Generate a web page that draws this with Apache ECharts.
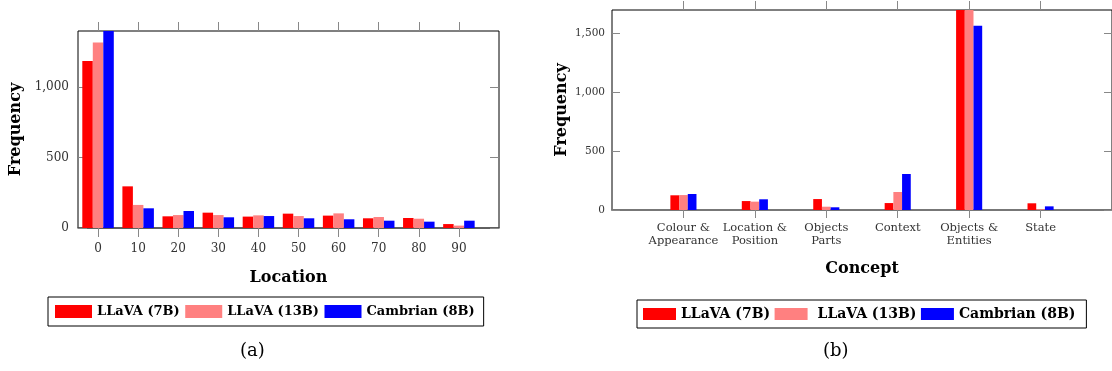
<!DOCTYPE html>
<html>
<head>
<meta charset="utf-8">
<script src="https://cdn.jsdelivr.net/npm/echarts@6/dist/echarts.min.js"></script>
<style>
  html, body { margin: 0; padding: 0; background: #fff; }
  #main { width: 1112px; height: 371px; }
</style>
</head>
<body>
<div id="main"></div>
<script>
// data
var seriesNames = ['LLaVA (7B)', 'LLaVA (13B)', 'Cambrian (8B)'];
var colors = ['#ff0000', '#ff8080', '#0000ff'];

// (a) location histogram
var locations = [0, 10, 20, 30, 40, 50, 60, 70, 80, 90];
var locLlava7 = [1187, 296, 83, 109, 81, 102, 88, 69, 71, 28];
var locLlava13 = [1318, 164, 92, 92, 90, 85, 104, 78, 66, 17];
var locCambrian = [1420, 140, 121, 76, 85, 69, 62, 52, 45, 52];
var locYTicks = [0, 500, 1000];

// (b) concept histogram
var concepts = ['Colour &\nAppearance', 'Location &\nPosition', 'Objects\nParts', 'Context', 'Objects &\nEntities', 'State'];
var conLlava7 = [125, 76, 93, 59, 1760, 57];
var conLlava13 = [127, 71, 28, 153, 1740, 6];
var conCambrian = [136, 91, 23, 306, 1567, 31];
var conYTicks = [0, 500, 1000, 1500];

var FONT = 'DejaVu Serif';
var tickColor = '#888';
var labelColor = '#333';

function thousands(v) {
    return String(v).replace(/\B(?=(\d{3})+(?!\d))/g, ',');
}

function pairs(xs, ys) {
    return xs.map(function (x, i) { return [x, ys[i]]; });
}

// legend entries with fixed text widths so the boxes line up
function legendData(widths, padPink) {
    return seriesNames.map(function (n, i) {
        return {name: n, textStyle: {width: widths[i], overflow: 'none', padding: [0, 0, 0, (padPink && i === 1) ? 5 : 0]}};
    });
}

var myChart = echarts.init(document.getElementById('main'));

var conIdx = concepts.map(function (c, i) { return i; });
var nameStyle = {fontFamily: FONT, fontWeight: 'bold', fontSize: 16, color: '#000'};

var option = {
    animation: false,
    color: colors,
    grid: [
        {left: 78, top: 31, width: 421, height: 197, show: true, borderColor: '#000', borderWidth: 1},
        {left: 612, top: 10, width: 504, height: 200, show: true, borderColor: '#000', borderWidth: 1}
    ],
    xAxis: [
        {
            gridIndex: 0, type: 'value', min: -5, max: 100,
            name: 'Location', nameLocation: 'middle', nameGap: 42, nameTextStyle: nameStyle,
            axisLine: {show: true, onZero: false, lineStyle: {color: '#555', width: 1.5}},
            axisTick: {show: true, customValues: locations, length: 9, lineStyle: {color: tickColor}},
            axisLabel: {customValues: locations, margin: 15, fontFamily: FONT, fontSize: 12, color: labelColor},
            splitLine: {show: false}
        },
        {
            gridIndex: 0, type: 'value', min: -5, max: 100, position: 'top',
            axisLine: {show: false, onZero: false},
            axisTick: {show: true, customValues: locations, length: 9, lineStyle: {color: tickColor}},
            axisLabel: {show: false},
            splitLine: {show: false}
        },
        {
            gridIndex: 1, type: 'value', min: -1, max: 6,
            name: 'Concept', nameLocation: 'middle', nameGap: 51, nameTextStyle: nameStyle,
            axisLine: {show: true, onZero: false, lineStyle: {color: '#777', width: 2}},
            axisTick: {show: true, customValues: conIdx, length: 8, lineStyle: {color: tickColor}},
            axisLabel: {
                customValues: conIdx, margin: 12, fontFamily: FONT, fontSize: 11.5,
                color: labelColor, lineHeight: 12.5, verticalAlign: 'top',
                formatter: function (v) { return concepts[Math.round(v)] || ''; }
            },
            splitLine: {show: false}
        },
        {
            gridIndex: 1, type: 'value', min: -1, max: 6, position: 'top',
            axisLine: {show: false, onZero: false},
            axisTick: {show: true, customValues: conIdx, length: 9, lineStyle: {color: tickColor}},
            axisLabel: {show: false},
            splitLine: {show: false}
        }
    ],
    yAxis: [
        {
            gridIndex: 0, type: 'value', min: 0, max: 1400,
            name: 'Frequency', nameLocation: 'middle', nameGap: 54, nameTextStyle: nameStyle,
            axisLine: {show: false, onZero: false},
            axisTick: {show: true, inside: true, customValues: locYTicks, length: 9, lineStyle: {color: tickColor}},
            axisLabel: {customValues: locYTicks, margin: 9, fontFamily: FONT, fontSize: 12, color: labelColor, formatter: thousands},
            splitLine: {show: false}
        },
        {
            gridIndex: 0, type: 'value', min: 0, max: 1400, position: 'right',
            axisLine: {show: false, onZero: false},
            axisTick: {show: true, inside: true, customValues: locYTicks, length: 9, lineStyle: {color: tickColor}},
            axisLabel: {show: false},
            splitLine: {show: false}
        },
        {
            gridIndex: 1, type: 'value', min: 0, max: 1700,
            name: 'Frequency', nameLocation: 'middle', nameGap: 42, nameTextStyle: nameStyle,
            axisLine: {show: false, onZero: false},
            axisTick: {show: true, inside: true, customValues: conYTicks, length: 8, lineStyle: {color: tickColor}},
            axisLabel: {customValues: conYTicks, margin: 7, fontFamily: FONT, fontSize: 10.5, color: labelColor, formatter: thousands},
            splitLine: {show: false}
        },
        {
            gridIndex: 1, type: 'value', min: 0, max: 1700, position: 'right',
            axisLine: {show: false, onZero: false},
            axisTick: {show: true, inside: true, customValues: conYTicks, length: 8, lineStyle: {color: tickColor}},
            axisLabel: {show: false},
            splitLine: {show: false}
        }
    ],
    legend: [
        {
            left: 48, top: 297, padding: [8, 9, 8, 7],
            itemWidth: 37, itemHeight: 13, itemGap: 5.5,
            borderColor: '#000', borderWidth: 1,
            icon: 'rect', data: legendData([86, 94, 107], false),
            textStyle: {fontFamily: FONT, fontWeight: 'bold', fontSize: 13, color: '#000'}
        },
        {
            left: 637, top: 300, padding: [7, 11, 7, 6],
            itemWidth: 33, itemHeight: 12, itemGap: 4.5,
            borderColor: '#000', borderWidth: 1,
            icon: 'rect', data: legendData([92, 105, 114], true),
            textStyle: {fontFamily: FONT, fontWeight: 'bold', fontSize: 14, color: '#000'}
        }
    ],
    graphic: [
        {type: 'text', left: 240, top: 342, style: {text: '(a)', font: '18px "DejaVu Serif"', fill: '#000'}},
        {type: 'text', left: 823, top: 342, style: {text: '(b)', font: '18px "DejaVu Serif"', fill: '#000'}}
    ],
    series: [
        {name: seriesNames[0], type: 'bar', xAxisIndex: 0, yAxisIndex: 0, barWidth: 10.5, barGap: '0%', data: pairs(locations, locLlava7)},
        {name: seriesNames[1], type: 'bar', xAxisIndex: 0, yAxisIndex: 0, barWidth: 10.5, barGap: '0%', data: pairs(locations, locLlava13)},
        {name: seriesNames[2], type: 'bar', xAxisIndex: 0, yAxisIndex: 0, barWidth: 10.5, barGap: '0%', data: pairs(locations, locCambrian)},
        {name: seriesNames[0], type: 'bar', xAxisIndex: 2, yAxisIndex: 2, barWidth: 8.7, barGap: '0%', data: pairs(conIdx, conLlava7)},
        {name: seriesNames[1], type: 'bar', xAxisIndex: 2, yAxisIndex: 2, barWidth: 8.7, barGap: '0%', data: pairs(conIdx, conLlava13)},
        {name: seriesNames[2], type: 'bar', xAxisIndex: 2, yAxisIndex: 2, barWidth: 8.7, barGap: '0%', data: pairs(conIdx, conCambrian)}
    ]
};

myChart.setOption(option);
</script>
</body>
</html>
